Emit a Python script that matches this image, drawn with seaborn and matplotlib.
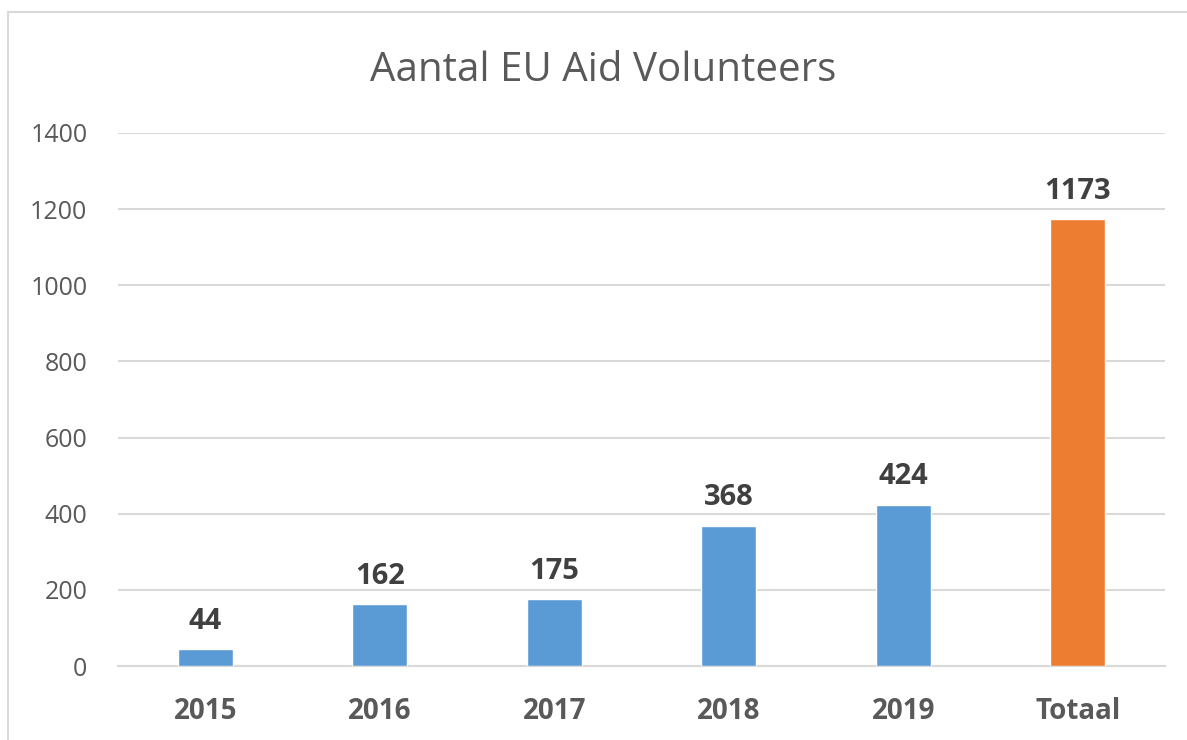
import matplotlib
matplotlib.use("Agg")
import matplotlib.pyplot as plt
import seaborn as sns
import pandas as pd
from matplotlib.patches import Rectangle

# chart data
categories = ["2015", "2016", "2017", "2018", "2019", "Totaal"]
volunteers = [44, 162, 175, 368, 424, 1173]
bar_colors = ["#5B9BD5", "#5B9BD5", "#5B9BD5", "#5B9BD5", "#5B9BD5", "#ED7D31"]
y_ticks = [0, 200, 400, 600, 800, 1000, 1200, 1400]

df = pd.DataFrame({"jaar": categories, "aantal": volunteers})

sns.set_theme(style="white")
plt.rcParams["font.family"] = ["Open Sans", "DejaVu Sans"]

fig = plt.figure(figsize=(11.87, 7.40), dpi=100)
ax = fig.add_axes([0.0994, 0.1, 0.882, 0.7203])

sns.barplot(data=df, x="jaar", y="aantal", hue="jaar", palette=bar_colors,
            legend=False, width=0.315, saturation=1, ax=ax, zorder=3)

ax.set_ylim(0, 1400)
ax.set_xlim(-0.5, 5.5)
ax.set_yticks(y_ticks)
ax.set_yticklabels([str(t) for t in y_ticks], fontsize=18, color="#595959")
ax.set_xticks(range(len(categories)))
ax.set_xticklabels(categories, fontsize=20, fontweight="bold", color="#595959")
ax.tick_params(axis="y", length=0, pad=22)
ax.tick_params(axis="x", length=0, pad=22)
ax.set_xlabel("")
ax.set_ylabel("")

ax.yaxis.grid(True, color="#D9D9D9", linewidth=1.5, zorder=0)
for side in ["top", "right", "left"]:
    ax.spines[side].set_visible(False)
ax.spines["bottom"].set_color("#D9D9D9")
ax.spines["bottom"].set_linewidth(1.5)

# value labels above bars
for i, v in enumerate(volunteers):
    ax.text(i, v + 36, str(v), ha="center", va="bottom", fontsize=21,
            fontweight="bold", color="#404040")

fig.text(0.508, 0.905, "Aantal EU Aid Volunteers", ha="center", va="center",
         fontsize=29, color="#595959")

# chart frame
fig.patches.append(Rectangle((8 / 1187, -0.05), 1.2, 1 - 12 / 740 + 0.05,
                             transform=fig.transFigure, fill=False,
                             edgecolor="#D9D9D9", linewidth=1.5))

fig.savefig("out.png", dpi=100)
